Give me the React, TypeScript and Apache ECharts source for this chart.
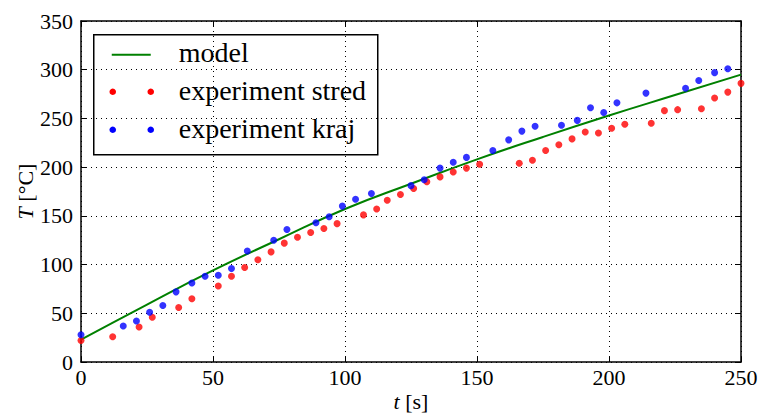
import React, { useEffect, useRef } from "react";
import * as echarts from "echarts";

const modelT = [0, 25, 50, 75, 100, 125, 150, 175, 200, 225, 250];
const modelV = [23, 59, 94, 126, 157, 183, 208, 231, 253, 274, 295];

const stredT = [0, 12, 22, 27, 37, 42, 52, 57, 62, 67, 72, 77, 82, 87, 92, 97, 107, 112, 116, 121, 126, 131, 136, 141, 146, 151, 166, 171, 176, 181, 186, 191, 196, 201, 206, 216, 221, 226, 235, 240, 245, 250];
const stredV = [22, 26, 36, 46, 56, 65, 78, 88, 97, 105, 113, 122, 128, 133, 137, 142, 151, 157, 166, 172, 178, 185, 190, 195, 199, 203, 204, 207, 217, 223, 229, 236, 235, 240, 244, 245, 258, 259, 260, 271, 277, 286];

const krajT = [0, 16, 21, 26, 31, 36, 42, 47, 52, 57, 63, 73, 78, 89, 94, 99, 104, 110, 125, 130, 136, 141, 146, 156, 162, 167, 172, 182, 188, 193, 198, 203, 214, 229, 234, 240, 245];
const krajV = [28, 37, 42, 51, 58, 72, 81, 88, 89, 96, 114, 125, 136, 143, 149, 160, 167, 173, 181, 187, 199, 205, 210, 217, 228, 237, 242, 243, 248, 261, 256, 266, 276, 281, 289, 297, 301];

const xTicks = [0, 50, 100, 150, 200, 250];
const yTicks = [0, 50, 100, 150, 200, 250, 300, 350];

const FONT = "serif";
const TICK_SIZE = 22;
const LEG_SIZE = 28;

export default function App() {
  const ref = useRef<HTMLDivElement>(null);
  useEffect(() => {
    if (!ref.current) return;
    const chart = echarts.init(ref.current, null, { renderer: "svg" });
    const pair = (a: number[], b: number[]) => a.map((v, i) => [v, b[i]]);
    const axisCommon = {
      axisLine: { show: true, onZero: false, lineStyle: { color: "#000", width: 1.5 } },
      axisTick: { show: true, inside: true, length: 6, lineStyle: { color: "#000", width: 1 } },
    };
    const nameStyle = {
      color: "#000",
      fontFamily: FONT,
      fontSize: TICK_SIZE,
      lineHeight: TICK_SIZE,
      rich: { i: { fontStyle: "italic", fontFamily: FONT, fontSize: TICK_SIZE, lineHeight: TICK_SIZE, color: "#000" } },
    };
    chart.setOption({
      animation: false,
      backgroundColor: "#fff",
      textStyle: { fontFamily: FONT, color: "#000" },
      grid: { left: 81, top: 21, width: 660, height: 341, containLabel: false, outerBoundsMode: "none" },
      xAxis: [
        {
          type: "value",
          min: xTicks[0],
          max: xTicks[xTicks.length - 1],
          interval: 50,
          ...axisCommon,
          axisLabel: { color: "#000", fontFamily: FONT, fontSize: TICK_SIZE, margin: 4 },
          splitLine: { show: true, lineStyle: { color: "#000", type: [1, 4], width: 1 } },
          name: "{i|t} [s]",
          nameLocation: "middle",
          nameGap: 28,
          nameMoveOverlap: false,
          nameTextStyle: nameStyle,
        },
        {
          type: "value",
          position: "top",
          min: 0,
          max: 250,
          interval: 50,
          ...axisCommon,
          axisLabel: { show: false },
          splitLine: { show: false },
        },
      ],
      yAxis: [
        {
          type: "value",
          min: yTicks[0],
          max: yTicks[yTicks.length - 1],
          interval: 50,
          ...axisCommon,
          axisLabel: { color: "#000", fontFamily: FONT, fontSize: TICK_SIZE, margin: 8 },
          splitLine: { show: true, lineStyle: { color: "#000", type: [1, 4], width: 1 } },
          name: "{i|T} [°C]",
          nameLocation: "middle",
          nameGap: 45,
          nameMoveOverlap: false,
          nameRotate: 90,
          nameTextStyle: nameStyle,
        },
        {
          type: "value",
          position: "right",
          min: 0,
          max: 350,
          interval: 50,
          ...axisCommon,
          axisLabel: { show: false },
          splitLine: { show: false },
        },
      ],
      series: [
        {
          name: "model",
          type: "line",
          data: pair(modelT, modelV),
          smooth: true,
          showSymbol: false,
          lineStyle: { color: "#008000", width: 2 },
          itemStyle: { color: "#008000" },
          z: 3,
        },
        {
          name: "experiment stred",
          type: "scatter",
          data: pair(stredT, stredV),
          symbolSize: 7,
          itemStyle: { color: "#ff0000" },
          z: 4,
        },
        {
          name: "experiment kraj",
          type: "scatter",
          data: pair(krajT, krajV),
          symbolSize: 7,
          itemStyle: { color: "#0000ff" },
          z: 5,
        },
      ],
      graphic: [
        {
          type: "group",
          left: 93,
          top: 34,
          z: 100,
          children: [
            { type: "rect", shape: { x: 0, y: 0, width: 284, height: 120 }, style: { fill: "#fff", stroke: "#000", lineWidth: 1.5 } },
            { type: "line", shape: { x1: 18, y1: 20, x2: 57, y2: 20 }, style: { stroke: "#008000", lineWidth: 2 } },
            { type: "circle", shape: { cx: 19, cy: 57, r: 3.3 }, style: { fill: "#ff0000" } },
            { type: "circle", shape: { cx: 57, cy: 57, r: 3.3 }, style: { fill: "#ff0000" } },
            { type: "circle", shape: { cx: 19, cy: 95, r: 3.3 }, style: { fill: "#0000ff" } },
            { type: "circle", shape: { cx: 57, cy: 95, r: 3.3 }, style: { fill: "#0000ff" } },
            { type: "text", x: 85, y: 18, style: { text: "model", fontFamily: FONT, fontSize: LEG_SIZE, fill: "#000", verticalAlign: "middle" } },
            { type: "text", x: 85, y: 56, style: { text: "experiment stred", fontFamily: FONT, fontSize: LEG_SIZE, fill: "#000", verticalAlign: "middle" } },
            { type: "text", x: 85, y: 94, style: { text: "experiment kraj", fontFamily: FONT, fontSize: LEG_SIZE, fill: "#000", verticalAlign: "middle" } },
          ],
        },
      ],
    });
    return () => chart.dispose();
  }, []);
  return <div ref={ref} style={{ position: "fixed", left: 0, top: 0, width: 758, height: 414 }} />;
}
